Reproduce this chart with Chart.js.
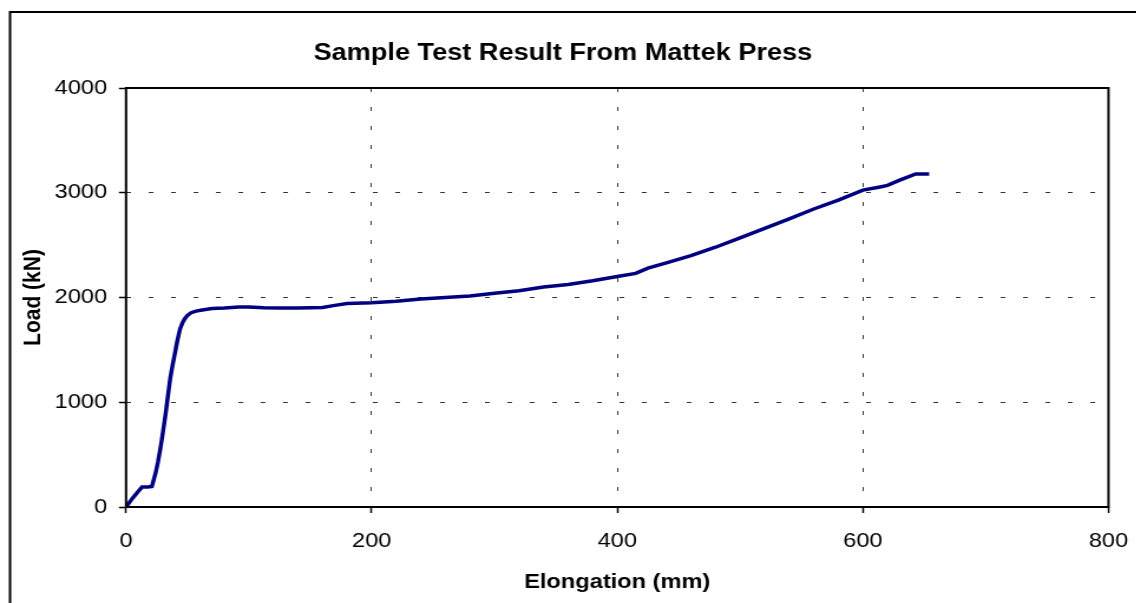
<!DOCTYPE html>
<html>
<head>
<meta charset="utf-8">
<title>Sample Test Result From Mattek Press</title>
<script src="https://cdn.jsdelivr.net/npm/chart.js@4/dist/chart.umd.min.js"></script>
<style>
  html, body { margin: 0; padding: 0; background: #fff; overflow: hidden; }
  /* the original picture is stretched sideways, so the chart is too */
  #wrap { width: 963px; height: 603px; transform: scaleX(1.18); transform-origin: 0 0; }
  #loadChart { display: block; }
</style>
</head>
<body>
<div id="wrap">
  <canvas id="loadChart" width="963" height="603"></canvas>
</div>
<script>
// DATOS DEL ENSAYO
const elongation = [0, 5, 10, 13, 18, 21, 24, 26, 28, 30, 32, 34, 36, 38, 40, 42, 44, 46, 48, 50,
  53, 57, 62, 70, 80, 92, 100, 112, 125, 140, 160, 170, 180, 200, 220, 240, 260, 280, 300, 320,
  340, 360, 380, 400, 415, 425, 440, 460, 480, 500, 520, 540, 560, 580, 600, 615, 620, 630, 643, 654];
const load = [0, 80, 150, 190, 190, 195, 320, 430, 560, 710, 870, 1050, 1230, 1360, 1480, 1600, 1700, 1760, 1800, 1830,
  1855, 1870, 1880, 1895, 1900, 1910, 1910, 1903, 1900, 1900, 1905, 1925, 1942, 1950, 1965, 1985, 2000, 2015, 2040, 2065,
  2100, 2125, 2160, 2200, 2230, 2280, 2330, 2400, 2480, 2570, 2660, 2750, 2845, 2930, 3025, 3058, 3070, 3120, 3180, 3180];
const xTicks = [0, 200, 400, 600, 800];
const yTicks = [0, 1000, 2000, 3000, 4000];

const FONT = "'Liberation Sans', Arial, sans-serif";
const points = elongation.map((x, i) => ({ x: x, y: load[i] }));

// MARCO EXTERIOR Y BORDE DEL AREA DE TRAZADO
const framePlugin = {
  id: 'frame',
  beforeDraw(chart) {
    const ctx = chart.ctx;
    ctx.save();
    ctx.strokeStyle = '#000';
    ctx.lineWidth = 2;
    ctx.beginPath();
    ctx.moveTo(8.5, chart.height);
    ctx.lineTo(8.5, 12);
    ctx.lineTo(chart.width, 12);
    ctx.stroke();
    ctx.restore();
  },
  afterDraw(chart) {
    const a = chart.chartArea;
    const ctx = chart.ctx;
    ctx.save();
    ctx.strokeStyle = '#000';
    ctx.lineWidth = 2;
    ctx.strokeRect(a.left, a.top, a.right - a.left, a.bottom - a.top);
    ctx.restore();
  }
};

const loadChart = new Chart(document.getElementById('loadChart').getContext('2d'), {
  type: 'scatter',
  data: {
    datasets: [{
      label: 'Load',
      data: points,
      showLine: true,
      borderColor: '#000080',
      backgroundColor: '#000080',
      borderWidth: 3.5,
      pointRadius: 0,
      tension: 0
    }]
  },
  options: {
    responsive: false,
    animation: false,
    layout: { padding: { left: 14.6, right: 23.6, top: 0, bottom: 0 } },
    plugins: {
      legend: { display: false },
      tooltip: { enabled: false },
      title: {
        display: true,
        text: 'Sample Test Result From Mattek Press',
        color: '#000',
        font: { family: FONT, size: 23, weight: 'bold', lineHeight: 1.2 },
        padding: { top: 40, bottom: 20.4 }
      }
    },
    scales: {
      x: {
        type: 'linear',
        min: 0,
        max: 800,
        afterFit(scale) {
          scale.height = 96;
          scale.paddingLeft = 0;
          scale.paddingRight = 0;
        },
        afterBuildTicks(scale) { scale.ticks = xTicks.map(v => ({ value: v })); },
        ticks: { color: '#000', font: { family: FONT, size: 20 }, padding: 16, maxRotation: 0,
                 callback: v => String(v) },
        grid: { color: '#333', lineWidth: 1, tickLength: 6, tickColor: '#000', tickWidth: 1.5 },
        border: { display: false, dash: [4, 15] },
        title: {
          display: true,
          text: 'Elongation (mm)',
          color: '#000',
          font: { family: FONT, size: 20, weight: 'bold', lineHeight: 1.2 },
          padding: { top: 0, bottom: 9 }
        }
      },
      y: {
        type: 'linear',
        min: 0,
        max: 4000,
        afterFit(scale) { scale.width = 92.2; },
        afterBuildTicks(scale) { scale.ticks = yTicks.map(v => ({ value: v })); },
        ticks: { color: '#000', font: { family: FONT, size: 20 }, padding: 10,
                 callback: v => String(v) },
        grid: { color: '#333', lineWidth: 1, tickLength: 6, tickColor: '#000', tickWidth: 1.5 },
        border: { display: false, dash: [4, 15] },
        title: {
          display: true,
          text: 'Load (kN)',
          color: '#000',
          font: { family: FONT, size: 21, weight: 'bold', lineHeight: 1.2 },
          padding: { top: 0.8, bottom: 0 }
        }
      }
    }
  },
  plugins: [framePlugin]
});
</script>
</body>
</html>
